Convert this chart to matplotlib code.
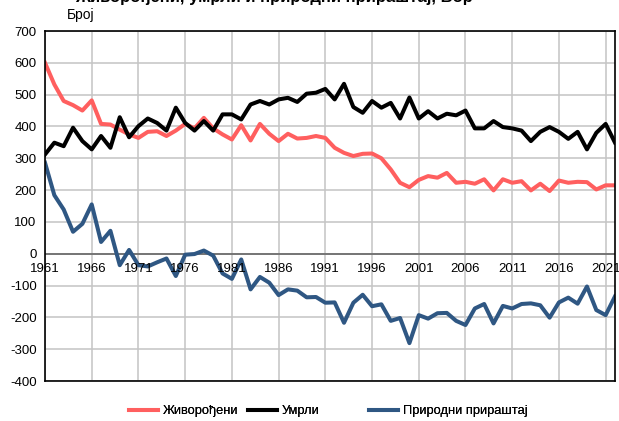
import matplotlib
matplotlib.use('Agg')
import matplotlib.pyplot as plt

plt.rcParams['font.family'] = ['Liberation Sans', 'DejaVu Sans']

years = list(range(1961, 2023))

# Живорођени
births = [600, 532, 480, 467, 450, 482, 408, 406, 390, 375,
          364, 383, 385, 370, 387, 408, 394, 427, 394, 375,
          359, 404, 356, 408, 377, 354, 377, 362, 364, 370,
          364, 333, 317, 307, 314, 315, 300, 265, 223, 209,
          232, 244, 239, 254, 223, 226, 220, 234, 199, 234,
          223, 228, 199, 220, 197, 230, 223, 226, 225, 202,
          215, 215]

# Умрли
deaths = [312, 349, 338, 396, 354, 328, 370, 333, 429, 366,
          401, 425, 411, 387, 459, 411, 387, 417, 387, 438,
          438, 422, 469, 480, 469, 485, 490, 477, 503, 506,
          518, 485, 534, 461, 443, 480, 459, 474, 425, 491,
          425, 448, 425, 440, 435, 450, 394, 394, 417, 398,
          394, 387, 354, 383, 398, 383, 361, 383, 328, 380,
          408, 349]

# Природни прираштај
natural = [286, 184, 139, 69, 94, 155, 37, 72, -36, 12,
           -36, -40, -27, -15, -70, -3, -1, 10, -6, -62,
           -79, -18, -112, -73, -91, -130, -112, -116, -137, -136,
           -154, -153, -217, -154, -129, -165, -159, -211, -202, -281,
           -193, -204, -187, -186, -211, -224, -172, -158, -219, -164,
           -172, -158, -156, -162, -201, -153, -138, -157, -103, -177,
           -193, -134]

xtick_years = list(range(1961, 2022, 5))
yticks = list(range(-400, 701, 100))

fig = plt.figure(figsize=(6.19, 4.21), dpi=100)
ax = fig.add_axes([45 / 619, 1 - 381 / 421, 570 / 619, 350 / 421])

lines = []
lines += ax.plot(years, births, color='#ff5f5f', lw=2.9, label='Живорођени')
lines += ax.plot(years, deaths, color='black', lw=2.9, label='Умрли')
lines += ax.plot(years, natural, color='#2f5783', lw=2.9, label='Природни прираштај')

ax.set_xlim(1961, 2022)
ax.set_ylim(-400, 700)
ax.set_yticks(yticks)
ax.set_yticklabels([str(v) for v in yticks], fontsize=9.5)
ax.set_xticks(xtick_years)
ax.set_xticklabels([])
ax.tick_params(axis='both', length=0)
ax.tick_params(axis='y', pad=6)

ax.grid(True, color='#c4c4c4', lw=1.1)
ax.set_axisbelow(True)
ax.axhline(0, color='#6e6e6e', lw=1.3, zorder=1)

for y in xtick_years:
    ax.annotate(str(y), (y, 0), xytext=(0, -7), textcoords='offset points',
                ha='center', va='top', fontsize=9.5)

for s in ax.spines.values():
    s.set_color('black')
    s.set_linewidth(1.2)

fig.text(67 / 619, 1 - 15 / 421, 'Број', fontsize=10, va='center', ha='left')
fig.text(75 / 619, 1 - 2 / 421, 'Живорођени, умрли и природни прираштај, Бор',
         fontsize=12, fontweight='bold', va='baseline', ha='left')

# one legend per entry, fixed column starts like the original
legend_x = [117, 236, 357]
for h, x in zip(lines, legend_x):
    lg = fig.legend([h], [h.get_label()], loc='center left',
                    bbox_to_anchor=(x / 619, 10 / 421), frameon=False,
                    fontsize=9.3, handlelength=2.3, handletextpad=0.35)
    fig.add_artist(lg)

fig.savefig('out.png', dpi=100)
